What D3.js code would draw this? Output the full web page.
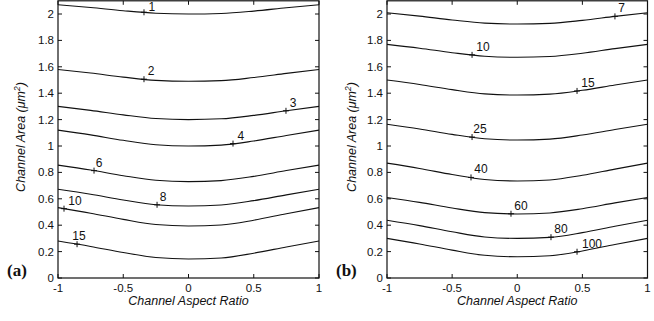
<!DOCTYPE html>
<html>
<head>
<meta charset="utf-8">
<script src="https://cdn.jsdelivr.net/npm/d3@7"></script>
<style>
  body { margin: 0; background: #fff; }
  svg { display: block; }
</style>
</head>
<body>
<div id="chart"></div>
<script>
// sample positions along the channel aspect ratio axis
const aspectX = [-1, -0.75, -0.5, -0.25, 0, 0.25, 0.5, 0.75, 1];
const xTicks = [-1, -0.5, 0, 0.5, 1];
const yTicks = [0, 0.2, 0.4, 0.6, 0.8, 1, 1.2, 1.4, 1.6, 1.8, 2];

// panel (a) contours: channel area at each aspectX sample
const levelsA = ["1", "2", "3", "4", "6", "8", "10", "15"];
const areaA = [
  [2.07, 2.049, 2.025, 2.006, 2.00, 2.004, 2.022, 2.047, 2.07],
  [1.58, 1.553, 1.522, 1.497, 1.49, 1.495, 1.519, 1.550, 1.58],
  [1.30, 1.270, 1.236, 1.208, 1.20, 1.206, 1.232, 1.267, 1.30],
  [1.12, 1.084, 1.043, 1.010, 1.00, 1.007, 1.038, 1.080, 1.12],
  [0.855, 0.818, 0.775, 0.740, 0.73, 0.738, 0.770, 0.814, 0.855],
  [0.672, 0.634, 0.591, 0.555, 0.545, 0.553, 0.586, 0.630, 0.672],
  [0.533, 0.491, 0.444, 0.405, 0.394, 0.402, 0.438, 0.487, 0.533],
  [0.28, 0.239, 0.193, 0.155, 0.144, 0.152, 0.188, 0.235, 0.28]
];
const markA = [-0.341, -0.341, 0.747, 0.341, -0.724, -0.241, -0.954, -0.854];
const labelA = [-0.28, -0.287, 0.801, 0.402, -0.686, -0.195, -0.87, -0.839];

// panel (b) contours
const levelsB = ["7", "10", "15", "25", "40", "60", "80", "100"];
const areaB = [
  [2.01, 1.984, 1.955, 1.931, 1.924, 1.929, 1.952, 1.982, 2.01],
  [1.77, 1.741, 1.707, 1.680, 1.672, 1.678, 1.703, 1.738, 1.77],
  [1.50, 1.466, 1.427, 1.395, 1.386, 1.393, 1.422, 1.462, 1.50],
  [1.165, 1.129, 1.088, 1.055, 1.045, 1.052, 1.083, 1.125, 1.165],
  [0.87, 0.830, 0.784, 0.746, 0.735, 0.743, 0.778, 0.825, 0.87],
  [0.61, 0.573, 0.530, 0.495, 0.485, 0.493, 0.525, 0.569, 0.61],
  [0.438, 0.397, 0.350, 0.311, 0.300, 0.308, 0.344, 0.392, 0.438],
  [0.30, 0.258, 0.211, 0.172, 0.161, 0.169, 0.205, 0.254, 0.30]
];
const markB = [0.75, -0.347, 0.459, -0.347, -0.355, -0.048, 0.259, 0.459];
const labelB = [0.802, -0.263, 0.543, -0.286, -0.278, 0.029, 0.336, 0.574];

const width = 654, height = 321;
const font = "'Liberation Sans', Arial, Helvetica, sans-serif";

const svg = d3.select("#chart").append("svg")
  .attr("width", width).attr("height", height)
  .attr("viewBox", `0 0 ${width} ${height}`);

const y = d3.scaleLinear().domain([0, 2.1]).range([278, 0.8]);

function drawPanel(left, right, levels, areas, marks, labels, tag, yLabelX, tagX) {
  const x = d3.scaleLinear().domain([-1, 1]).range([left, right]);
  const g = svg.append("g");

  // contour lines
  const line = d3.line()
    .x((d, i) => x(aspectX[i]))
    .y(d => y(d))
    .curve(d3.curveMonotoneX);

  g.selectAll("path.contour").data(areas).enter().append("path")
    .attr("class", "contour")
    .attr("d", line)
    .attr("fill", "none")
    .attr("stroke", "#111")
    .attr("stroke-width", 1.1);

  // '+' markers and level labels
  areas.forEach((vals, k) => {
    const interp = d3.scaleLinear().domain(aspectX).range(vals);
    const mx = x(marks[k]), my = y(interp(marks[k]));
    g.append("path")
      .attr("d", `M${mx - 3},${my}H${mx + 3}M${mx},${my - 3}V${my + 3}`)
      .attr("stroke", "#111").attr("stroke-width", 1);
    g.append("text")
      .attr("x", x(labels[k])).attr("y", Math.max(my - 4, 10.5))
      .attr("text-anchor", "middle")
      .style("font-family", font).style("font-size", "12px")
      .attr("fill", "#111")
      .text(levels[k]);
  });

  // frame
  g.append("rect")
    .attr("x", left).attr("y", y(2.1))
    .attr("width", right - left).attr("height", y(0) - y(2.1))
    .attr("fill", "none").attr("stroke", "#111").attr("stroke-width", 1.2);

  // inward ticks on all sides
  const tl = 4;
  xTicks.forEach(t => {
    g.append("line").attr("x1", x(t)).attr("x2", x(t))
      .attr("y1", y(0)).attr("y2", y(0) - tl).attr("stroke", "#111");
    g.append("line").attr("x1", x(t)).attr("x2", x(t))
      .attr("y1", y(2.1)).attr("y2", y(2.1) + tl).attr("stroke", "#111");
    g.append("text")
      .attr("x", x(t)).attr("y", y(0) + 14)
      .attr("text-anchor", "middle")
      .style("font-family", font).style("font-size", "11.5px")
      .attr("fill", "#111")
      .text(d3.format("")(t).replace("−", "-"));
  });
  yTicks.forEach(t => {
    g.append("line").attr("x1", left).attr("x2", left + tl)
      .attr("y1", y(t)).attr("y2", y(t)).attr("stroke", "#111");
    g.append("line").attr("x1", right).attr("x2", right - tl)
      .attr("y1", y(t)).attr("y2", y(t)).attr("stroke", "#111");
    g.append("text")
      .attr("x", left - 4).attr("y", y(t) + 4)
      .attr("text-anchor", "end")
      .style("font-family", font).style("font-size", "11.5px")
      .attr("fill", "#111")
      .text(t);
  });

  // axis titles
  g.append("text")
    .attr("x", (left + right) / 2).attr("y", 305)
    .attr("text-anchor", "middle")
    .style("font-family", font).style("font-size", "12.5px")
    .style("font-style", "italic")
    .attr("fill", "#111")
    .text("Channel Aspect Ratio");

  const yl = g.append("text")
    .attr("transform", `translate(${yLabelX},137) rotate(-90)`)
    .attr("text-anchor", "middle")
    .style("font-family", font).style("font-size", "12.5px")
    .style("font-style", "italic")
    .attr("fill", "#111");
  yl.append("tspan").text("Channel Area (");
  yl.append("tspan").text("μm");
  yl.append("tspan").attr("dy", -5).style("font-size", "8.5px").text("2");
  yl.append("tspan").attr("dy", 5).text(")");

  // panel tag
  g.append("text")
    .attr("x", tagX).attr("y", 276)
    .style("font-family", "'Liberation Serif', 'Times New Roman', serif")
    .style("font-size", "17px").style("font-weight", "bold")
    .attr("fill", "#111")
    .text(tag);
}

drawPanel(58, 319, levelsA, areaA, markA, labelA, "(a)", 25, 7);
drawPanel(387, 647.5, levelsB, areaB, markB, labelB, "(b)", 356, 336);
</script>
</body>
</html>
